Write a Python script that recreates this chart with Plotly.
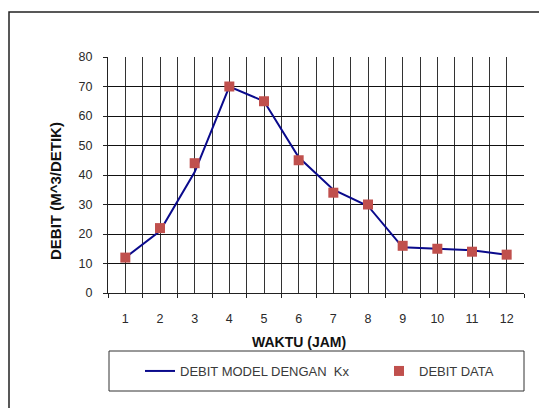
import plotly.graph_objects as go

# ---- data ----
jam = [1, 2, 3, 4, 5, 6, 7, 8, 9, 10, 11, 12]
jam_labels = ["1", "2", "3", "4", "5", "6", "7", "8", "9", "10", "11", "12"]
debit_model = [12, 21, 41, 70, 65, 46, 35, 29.5, 15.5, 15, 14.5, 13]
debit_data = [12, 22, 44, 70, 65, 45, 34, 30, 16, 15, 14, 13]
y_ticks = [0, 10, 20, 30, 40, 50, 60, 70, 80]

# page body has an 8px margin: figure placed at (8, 8) in the window
OFF = 8
W, H = 547 - OFF, 408 - OFF
L, R, T, B = 108 - OFF, 23, 57 - OFF, 115
pw, ph = W - L - R, H - T - B


def px(x):  # window pixel -> paper x
    return (x - OFF - L) / pw


def py(y):  # window pixel -> paper y
    return (H - B - (y - OFF)) / ph


font_family = "Liberation Sans, Arial, sans-serif"

fig = go.Figure()
fig.add_trace(go.Scatter(
    x=jam, y=debit_model, mode="lines", name="DEBIT MODEL DENGAN  Kx",
    line=dict(color="#0a0a8c", width=2), legend="legend",
))
fig.add_trace(go.Scatter(
    x=jam, y=debit_data, mode="markers", name="DEBIT DATA",
    marker=dict(symbol="square", size=10, color="#c0504d"), legend="legend2",
))

boundaries = [j - 0.5 for j in jam] + [jam[-1] + 0.5]

leg_common = dict(orientation="h", xanchor="left", yanchor="top",
                  font=dict(size=13, color="#3a3a3a"), bgcolor="rgba(0,0,0,0)")

fig.update_layout(
    width=W, height=H,
    margin=dict(l=L, r=R, t=T, b=B, autoexpand=False),
    paper_bgcolor="white", plot_bgcolor="white",
    font=dict(family=font_family, size=12.5, color="#2a2a2a"),
    showlegend=True,
    legend=dict(x=px(140), y=py(356), **leg_common),
    legend2=dict(x=px(379), y=py(356), **leg_common),
    xaxis=dict(
        range=[0.5, 12.5], tickvals=jam, ticktext=jam_labels,
        showgrid=True, gridcolor="#333", gridwidth=1,
        ticks="", ticklabelstandoff=14,
        showline=True, linecolor="#222", linewidth=1,
        minor=dict(tickvals=boundaries, showgrid=True, gridcolor="#333",
                   gridwidth=1, ticks="outside", ticklen=4, tickcolor="#222"),
        zeroline=False,
    ),
    yaxis=dict(
        range=[0, 80], tickvals=y_ticks,
        showgrid=True, gridcolor="#111", gridwidth=1,
        ticks="outside", ticklen=4, tickcolor="#222", ticklabelstandoff=8,
        showline=True, linecolor="#222", linewidth=1, zeroline=False,
    ),
)

fig.add_annotation(
    text="<b>WAKTU (JAM)</b>", xref="paper", yref="paper",
    x=px(299), y=py(342), xanchor="center", yanchor="middle",
    showarrow=False, font=dict(size=14, color="#111"),
)
fig.add_annotation(
    text="<b>DEBIT (M^3/DETIK)</b>", xref="paper", yref="paper",
    x=px(55), y=py(191), xanchor="center", yanchor="middle", textangle=-90,
    showarrow=False, font=dict(size=15, color="#111"),
)

# legend frame and outer chart frame
fig.add_shape(type="rect", xref="paper", yref="paper",
              x0=px(109), x1=px(524), y0=py(391), y1=py(351),
              line=dict(color="#333", width=1))
fig.add_shape(type="rect", xref="paper", yref="paper",
              x0=px(9), x1=px(570), y0=py(430), y1=py(12),
              line=dict(color="#222", width=1.5))

fig.write_html("out.html")
